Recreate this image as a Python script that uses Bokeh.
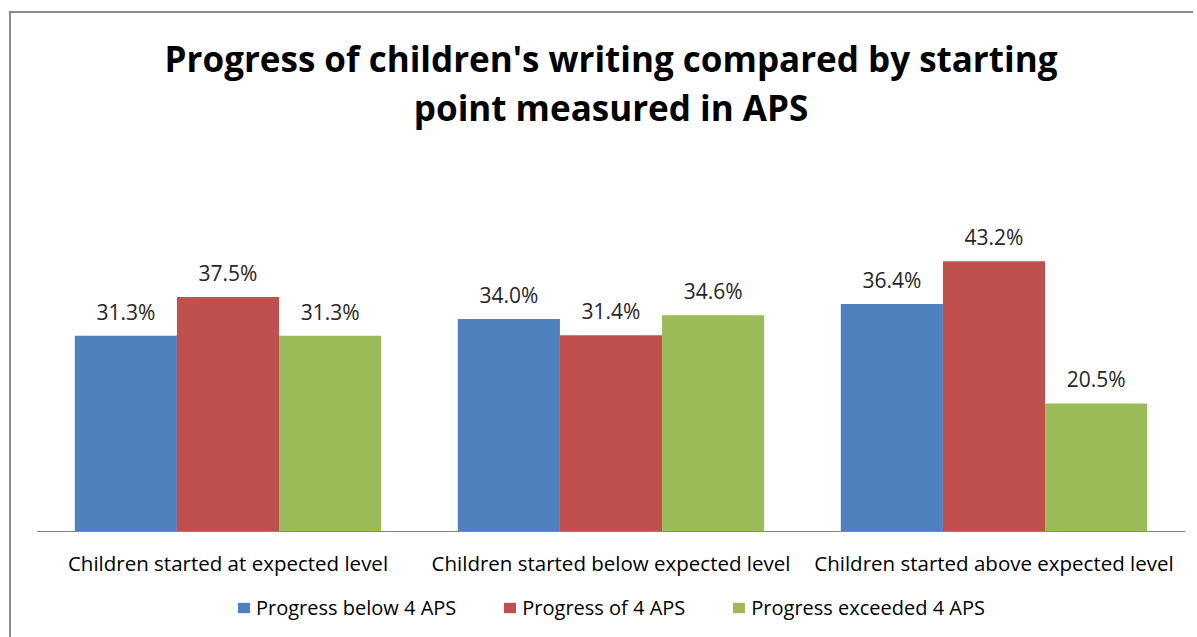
from bokeh.plotting import figure
from bokeh.models import ColumnDataSource, FactorRange, Legend, LegendItem, Title, LabelSet
from bokeh.core.properties import value
from bokeh.transform import dodge
from bokeh.embed import file_html
from bokeh.resources import INLINE

categories = ["Children started at expected level",
              "Children started below expected level",
              "Children started above expected level"]
series_names = ["Progress below 4 APS", "Progress of 4 APS", "Progress exceeded 4 APS"]
below_4 = [31.3, 34.0, 36.4]
of_4 = [37.5, 31.4, 43.2]
exceeded_4 = [31.3, 34.6, 20.5]
colors = ["#4F81BD", "#C0504D", "#9BBB59"]
title_line1 = "Progress of children's writing compared by starting"
title_line2 = "point measured in APS"

FONT = "Open Sans"

source = ColumnDataSource(data=dict(
    cat=categories,
    s0=below_4, s1=of_4, s2=exceeded_4,
    l0=[f"{v:.1f}%" for v in below_4],
    l1=[f"{v:.1f}%" for v in of_4],
    l2=[f"{v:.1f}%" for v in exceeded_4],
))

p = figure(frame_width=1149, frame_height=507,
           x_range=FactorRange(*categories, range_padding=0),
           y_range=(-16.9, 64.1), output_backend="svg", toolbar_location=None,
           min_border_left=25, min_border_right=8, min_border_top=117, min_border_bottom=0)

bw = 0.8 / 3
offsets = [-bw, 0.0, bw]
keys = ["s0", "s1", "s2"]
lkeys = ["l0", "l1", "l2"]
renderers = []
for k, lk, off, c in zip(keys, lkeys, offsets, colors):
    r = p.vbar(x=dodge("cat", off, range=p.x_range), top=k, width=bw, source=source,
               fill_color=c, line_color=None)
    renderers.append(r)
    labels = LabelSet(x=dodge("cat", off, range=p.x_range), y=k, text=lk, source=source,
                      text_align="center", text_baseline="alphabetic", y_offset=16,
                      text_font=value(FONT), text_font_size=value("21px"), text_color="#262626")
    p.add_layout(labels)

p.title.text = title_line1
p.title.align = "center"
p.title.text_font = FONT
p.title.text_font_size = "35px"
p.title.text_font_style = "bold"
p.title.text_color = "#000000"
p.title.standoff = 0
p.add_layout(Title(text=title_line2, align="center", text_font=FONT, text_font_size="35px",
                   text_font_style="bold", text_color="#000000", standoff=0), "above")

p.yaxis.visible = False
p.xgrid.grid_line_color = None
p.ygrid.grid_line_color = None
p.outline_line_color = None

xa = p.xaxis[0]
xa.fixed_location = 0
xa.axis_line_color = "#868686"
xa.axis_line_width = 1
xa.major_tick_line_color = None
xa.minor_tick_line_color = None
xa.major_label_standoff = 11
xa.major_label_text_font = FONT
xa.major_label_text_font_size = "20.5px"
xa.major_label_text_color = "#000000"

legend = Legend(items=[LegendItem(label=n, renderers=[r]) for n, r in zip(series_names, renderers)],
                orientation="horizontal", location=(200, 16),
                glyph_width=15, glyph_height=13, label_standoff=5, spacing=46,
                label_text_font=FONT, label_text_font_size="20px", label_text_color="#000000",
                border_line_color=None, background_fill_alpha=0, padding=0, margin=0)
p.add_layout(legend, "center")

p.styles = {"border-top": "2px solid #8c8c8c", "border-left": "2px solid #8c8c8c",
            "margin-top": "11px", "margin-left": "9px"}

open("out.html", "w").write(file_html(p, INLINE))
